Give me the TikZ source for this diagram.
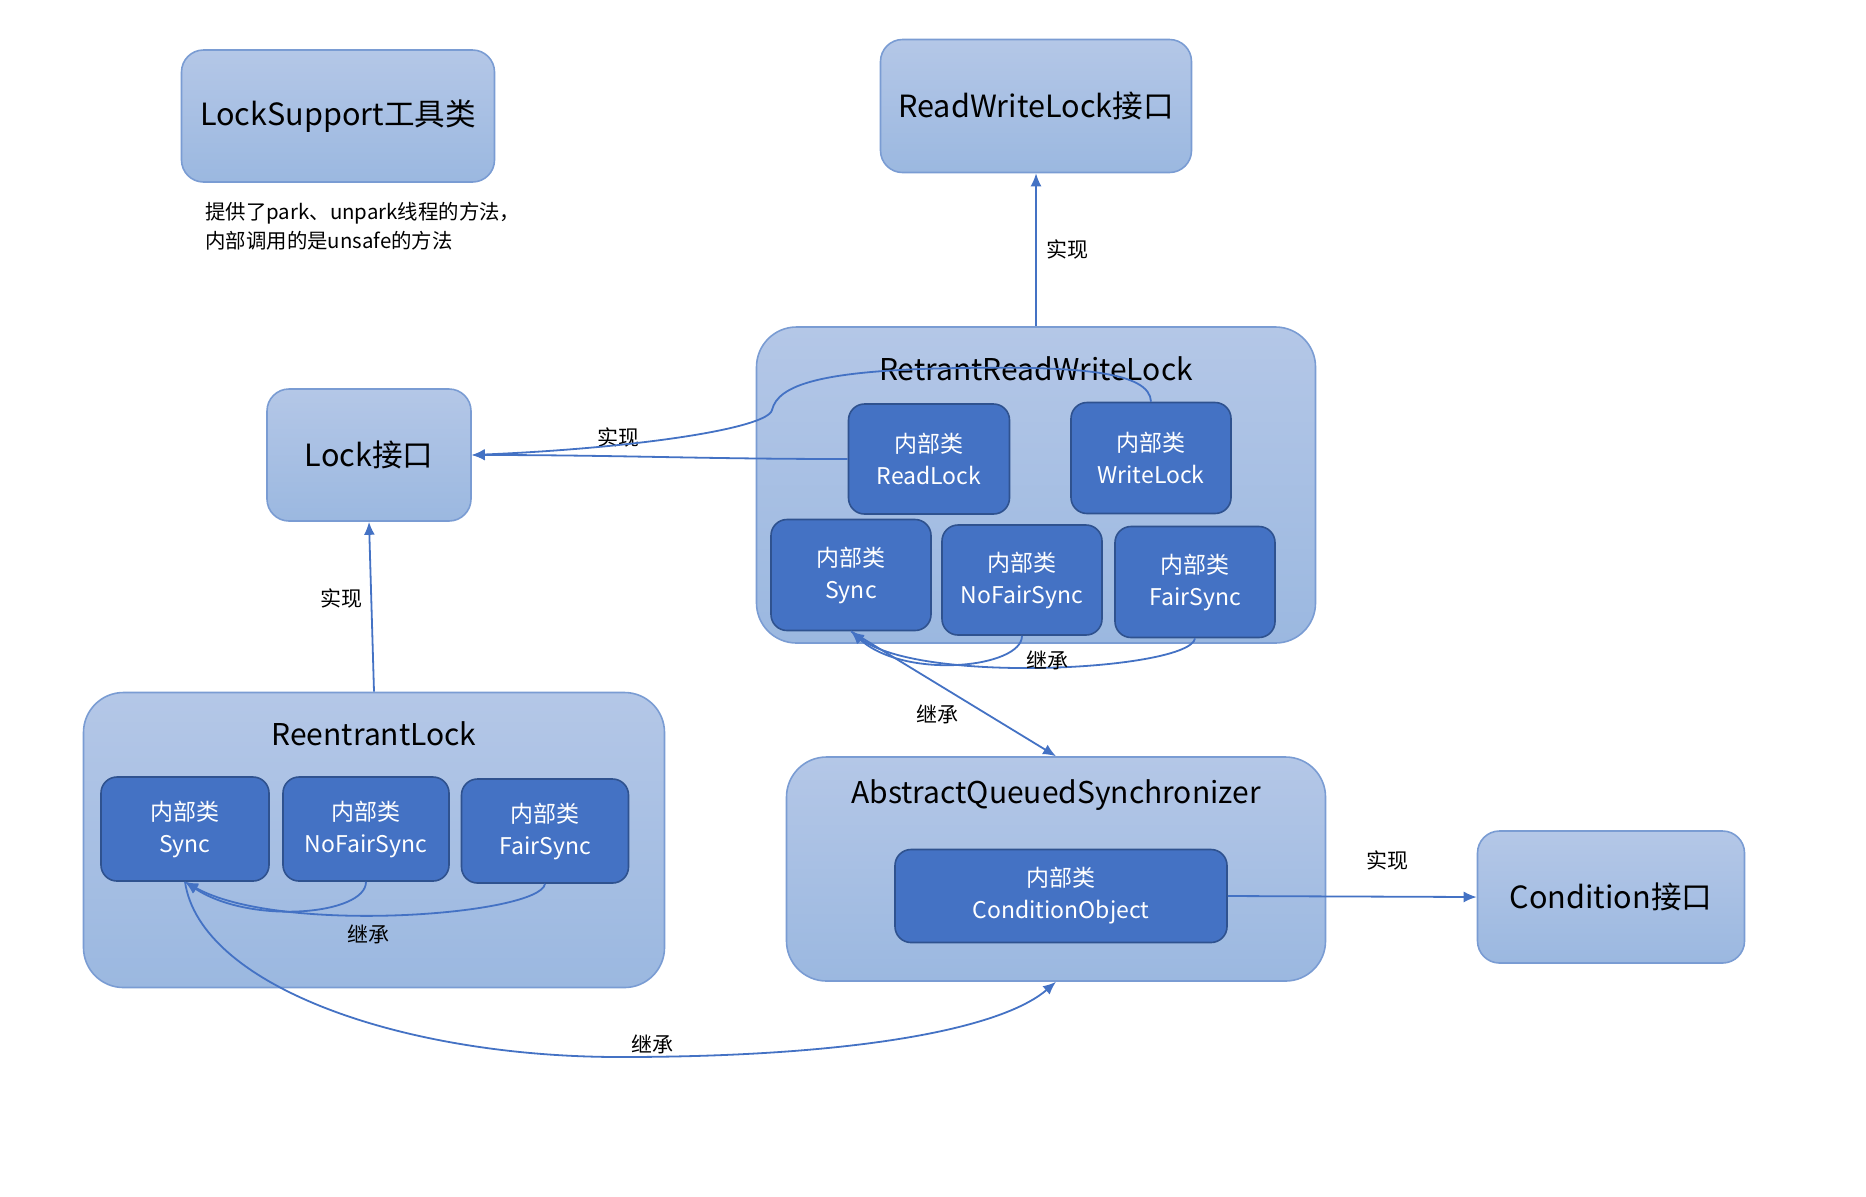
\documentclass[tikz,border=0pt]{standalone}
\usepackage{fontspec}
\setmainfont{Noto Sans CJK SC}
\usepackage{xcolor}
\usetikzlibrary{arrows.meta}
\definecolor{outerTop}{HTML}{B4C7E7}
\definecolor{outerBot}{HTML}{9BB8E0}
\definecolor{outerLine}{HTML}{7A9CD3}
\definecolor{innerFill}{HTML}{4472C4}
\definecolor{innerLine}{HTML}{2F528F}
\definecolor{linkBlue}{HTML}{4472C4}

\begin{document}
\begin{tikzpicture}[x=0.5pt, y=-0.5pt,
    bigbox/.style={rectangle, rounded corners=20pt, draw=outerLine, line width=0.8pt, top color=outerTop, bottom color=outerBot, inner sep=0pt},
    smallbox/.style={rectangle, rounded corners=11pt, draw=outerLine, line width=0.8pt, top color=outerTop, bottom color=outerBot, inner sep=0pt, font=\fontsize{15.3pt}{18pt}\selectfont},
    innerbox/.style={rectangle, rounded corners=8pt, draw=innerLine, line width=0.8pt, fill=innerFill, text=white, align=center, inner sep=0pt, font=\fontsize{11.5pt}{16pt}\selectfont},
    title/.style={font=\fontsize{15pt}{18pt}\selectfont, inner sep=0pt},
    lbl/.style={font=\fontsize{10.5pt}{12pt}\selectfont, inner sep=1pt},
    link/.style={draw=linkBlue, line width=0.9pt, -{Latex[length=6.5pt,width=5.5pt]}}]
    \useasboundingbox (0,0) rectangle (1866,1196);

    % Define nodes
    \node [smallbox, minimum width=156.5pt, minimum height=66pt] (locksupport) at (338,116) {LockSupport工具类};
    \node [anchor=west, align=left, inner sep=0pt, font=\fontsize{10.2pt}{14.5pt}\selectfont] (locknote) at (205,226) {提供了park、unpark线程的方法，\\内部调用的是unsafe的方法};

    \node [smallbox, minimum width=155.5pt, minimum height=66.5pt] (rwlock) at (1036,106) {ReadWriteLock接口};

    \node [bigbox, minimum width=279.5pt, minimum height=158pt] (rrwl) at (1036,485) {};
    \node [title] (rrwltitle) at (1036,369) {RetrantReadWriteLock};
    \node [innerbox, minimum width=80.5pt, minimum height=55pt] (readlock) at (929,459) {内部类\\ReadLock};
    \node [innerbox, minimum width=80pt, minimum height=55.5pt] (writelock) at (1151,458) {内部类\\WriteLock};
    \node [innerbox, minimum width=80pt, minimum height=55.5pt] (rrsync) at (851,575) {内部类\\Sync};
    \node [innerbox, minimum width=80pt, minimum height=55pt] (rrnofair) at (1022,580) {内部类\\NoFairSync};
    \node [innerbox, minimum width=80pt, minimum height=55.5pt] (rrfair) at (1195,582) {内部类\\FairSync};

    \node [smallbox, minimum width=102pt, minimum height=66pt] (lock) at (369,455) {Lock接口};

    \node [bigbox, minimum width=290.5pt, minimum height=147.5pt] (rlock) at (374,840) {};
    \node [title] (rltitle) at (374,734) {ReentrantLock};
    \node [innerbox, minimum width=84pt, minimum height=52pt] (rlsync) at (185,829) {内部类\\Sync};
    \node [innerbox, minimum width=83pt, minimum height=52pt] (rlnofair) at (366,829) {内部类\\NoFairSync};
    \node [innerbox, minimum width=83.5pt, minimum height=52pt] (rlfair) at (545,831) {内部类\\FairSync};

    \node [bigbox, minimum width=269.5pt, minimum height=112pt] (aqs) at (1056,869) {};
    \node [title] (aqstitle) at (1056,795) {AbstractQueuedSynchronizer};
    \node [innerbox, minimum width=166pt, minimum height=46.5pt] (condobj) at (1061,896) {内部类\\ConditionObject};

    \node [smallbox, minimum width=133.5pt, minimum height=66pt] (condition) at (1611,897) {Condition接口};

    % Draw edges
    \draw [link] (rrwl.north) -- (rwlock.south) node[midway, right=4pt, lbl] {实现};
    \draw [link] (readlock.west) to[out=180, in=0] node[pos=0.62, above=3pt, lbl] {实现} (lock.east);
    \draw [link] (writelock.north) .. controls (1150,372) and (1080,366) .. (960,368)
        .. controls (820,370) and (778,385) .. (772,410)
        .. controls (768,428) and (640,448) .. (lock.east);
    \draw [link] (rlock.north) -- (lock.south) node[pos=0.55, left=3pt, lbl] {实现};

    \draw [link] (rlnofair.south) .. controls (366,915) and (250,925) .. (rlsync.south);
    \draw [link] (rlfair.south) .. controls (540,915) and (280,935) .. (rlsync.south);
    \node [lbl] (rlinherit) at (368,934) {继承};
    \draw [link] (rrnofair.south) .. controls (1022,668) and (905,680) .. (rrsync.south);
    \draw [link] (rrfair.south) .. controls (1190,670) and (920,685) .. (rrsync.south);
    \node [lbl] (rrinherit) at (1047,660) {继承};
    \draw [link] (rrsync.south) -- (aqs.north) node[pos=0.55, below left=1pt, lbl] {继承};

    \draw [link] (rlsync.south) .. controls (200,985) and (400,1057) .. (620,1057) node[above, xshift=16pt, lbl] {继承}
        .. controls (850,1057) and (1000,1030) .. (aqs.south);
    \draw [link] (condobj.east) -- (condition.west) node[pos=0.64, above=12pt, lbl] {实现};
\end{tikzpicture}
\end{document}
